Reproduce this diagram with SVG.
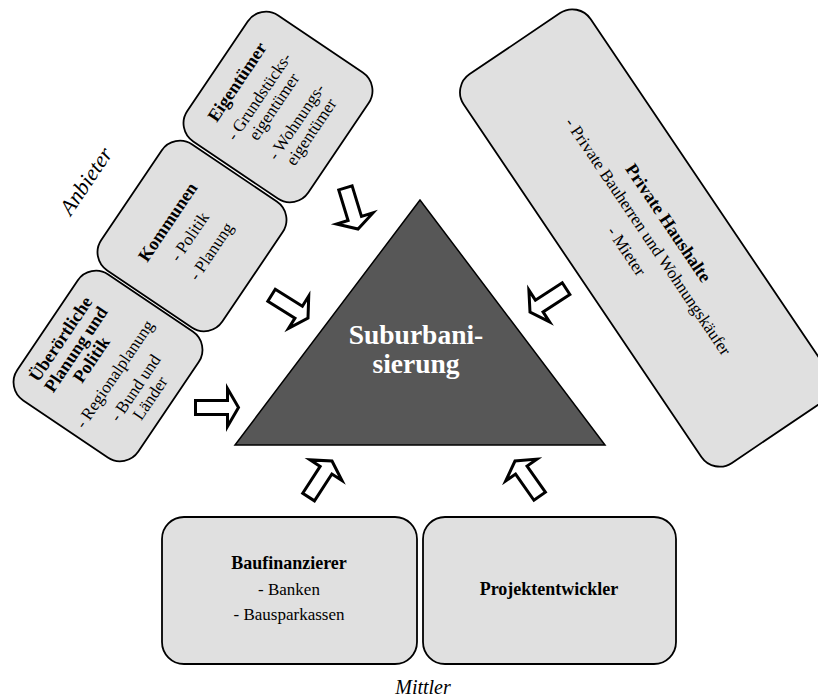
<svg xmlns="http://www.w3.org/2000/svg" width="818" height="700" viewBox="0 0 818 700">
  <style>
    .box { fill: #e0e0e0; stroke: #000; stroke-width: 1.8; }
    text { font-family: "Liberation Serif", "DejaVu Serif", serif; fill: #000; text-anchor: middle; }
    .t { font-size: 18px; font-weight: bold; }
    .r { font-size: 17px; }
    .cat { font-style: italic; }
    .core { font-size: 27.5px; font-weight: bold; fill: #fff; }
    .arrow { fill: #fff; stroke: #000; stroke-width: 3; stroke-linejoin: miter; stroke-miterlimit: 10; }
  </style>
  <defs>
    <!-- block arrow, tip at origin, pointing along +x -->
    <path id="blockArrow" d="M-43,-7 H-11 V-19 L0,0 L-11,19 V7 H-43 Z"/>
  </defs>

  <rect width="818" height="700" fill="#fff"/>

  <!-- central triangle -->
  <g id="node-suburbanisierung">
    <polygon points="420,200 235,445 605,445" fill="#575757" stroke="#000" stroke-width="1.5"/>
    <text class="core" x="416" y="344">Suburbani-</text>
    <text class="core" x="416" y="373">sierung</text>
  </g>

  <!-- supply side -->
  <g id="node-eigentuemer" transform="translate(278,107) rotate(-56)">
    <rect class="box" x="-76" y="-73" width="152" height="146" rx="22"/>
    <text class="t" x="-2" y="-42">Eigentümer</text>
    <text class="r" x="-2" y="-16">- Grundstücks-</text>
    <text class="r" x="-2" y="2">eigentümer</text>
    <text class="r" x="-2" y="29">- Wohnungs-</text>
    <text class="r" x="-2" y="47">eigentümer</text>
  </g>

  <g id="node-kommunen" transform="translate(192,236) rotate(-56)">
    <rect class="box" x="-76" y="-73" width="152" height="146" rx="22"/>
    <text class="t" x="-2" y="-22">Kommunen</text>
    <text class="r" x="-2" y="4">- Politik</text>
    <text class="r" x="-2" y="30">- Planung</text>
  </g>

  <g id="node-ueberoertliche" transform="translate(108,366) rotate(-56)">
    <rect class="box" x="-76" y="-73" width="152" height="146" rx="22"/>
    <text class="t" x="-4" y="-48.5">Überörtliche</text>
    <text class="t" x="-4" y="-30">Planung und</text>
    <text class="t" x="-4" y="-11.5">Politik</text>
    <text class="r" x="-3" y="15.5">- Regionalplanung</text>
    <text class="r" x="-3" y="40.5">- Bund und</text>
    <text class="r" x="-3" y="58.5">Länder</text>
  </g>

  <!-- demand side -->
  <g id="node-private-haushalte" transform="translate(646,238) rotate(56)">
    <rect class="box" x="-234.5" y="-76.5" width="469" height="153" rx="22"/>
    <text class="t" x="0" y="-21">Private Haushalte</text>
    <text class="r" x="0" y="3">- Private Bauherren und Wohnungskäufer</text>
    <text class="r" x="0" y="29">- Mieter</text>
  </g>

  <!-- intermediaries -->
  <g id="node-baufinanzierer">
    <rect class="box" x="162" y="517" width="255" height="147" rx="22"/>
    <text class="t" x="289" y="569">Baufinanzierer</text>
    <text class="r" x="289" y="595">- Banken</text>
    <text class="r" x="289" y="620">- Bausparkassen</text>
  </g>

  <g id="node-projektentwickler">
    <rect class="box" x="423" y="517" width="253" height="147" rx="22"/>
    <text class="t" x="549" y="595">Projektentwickler</text>
  </g>

  <!-- group labels -->
  <g id="labels">
    <text class="cat" font-size="22" transform="translate(92,185) rotate(-56)">Anbieter</text>
    <text class="cat" font-size="20" x="423" y="694">Mittler</text>
  </g>

  <!-- influence arrows towards the centre -->
  <g id="connectors">
    <use href="#blockArrow" class="arrow" transform="translate(358,229) rotate(73)"/>
    <use href="#blockArrow" class="arrow" transform="translate(308,318) rotate(32)"/>
    <use href="#blockArrow" class="arrow" transform="translate(238.5,407.5)"/>
    <use href="#blockArrow" class="arrow" transform="translate(332,461) rotate(-57)"/>
    <use href="#blockArrow" class="arrow" transform="translate(515,461) rotate(-125)"/>
    <use href="#blockArrow" class="arrow" transform="translate(530,312) rotate(147)"/>
  </g>
</svg>
